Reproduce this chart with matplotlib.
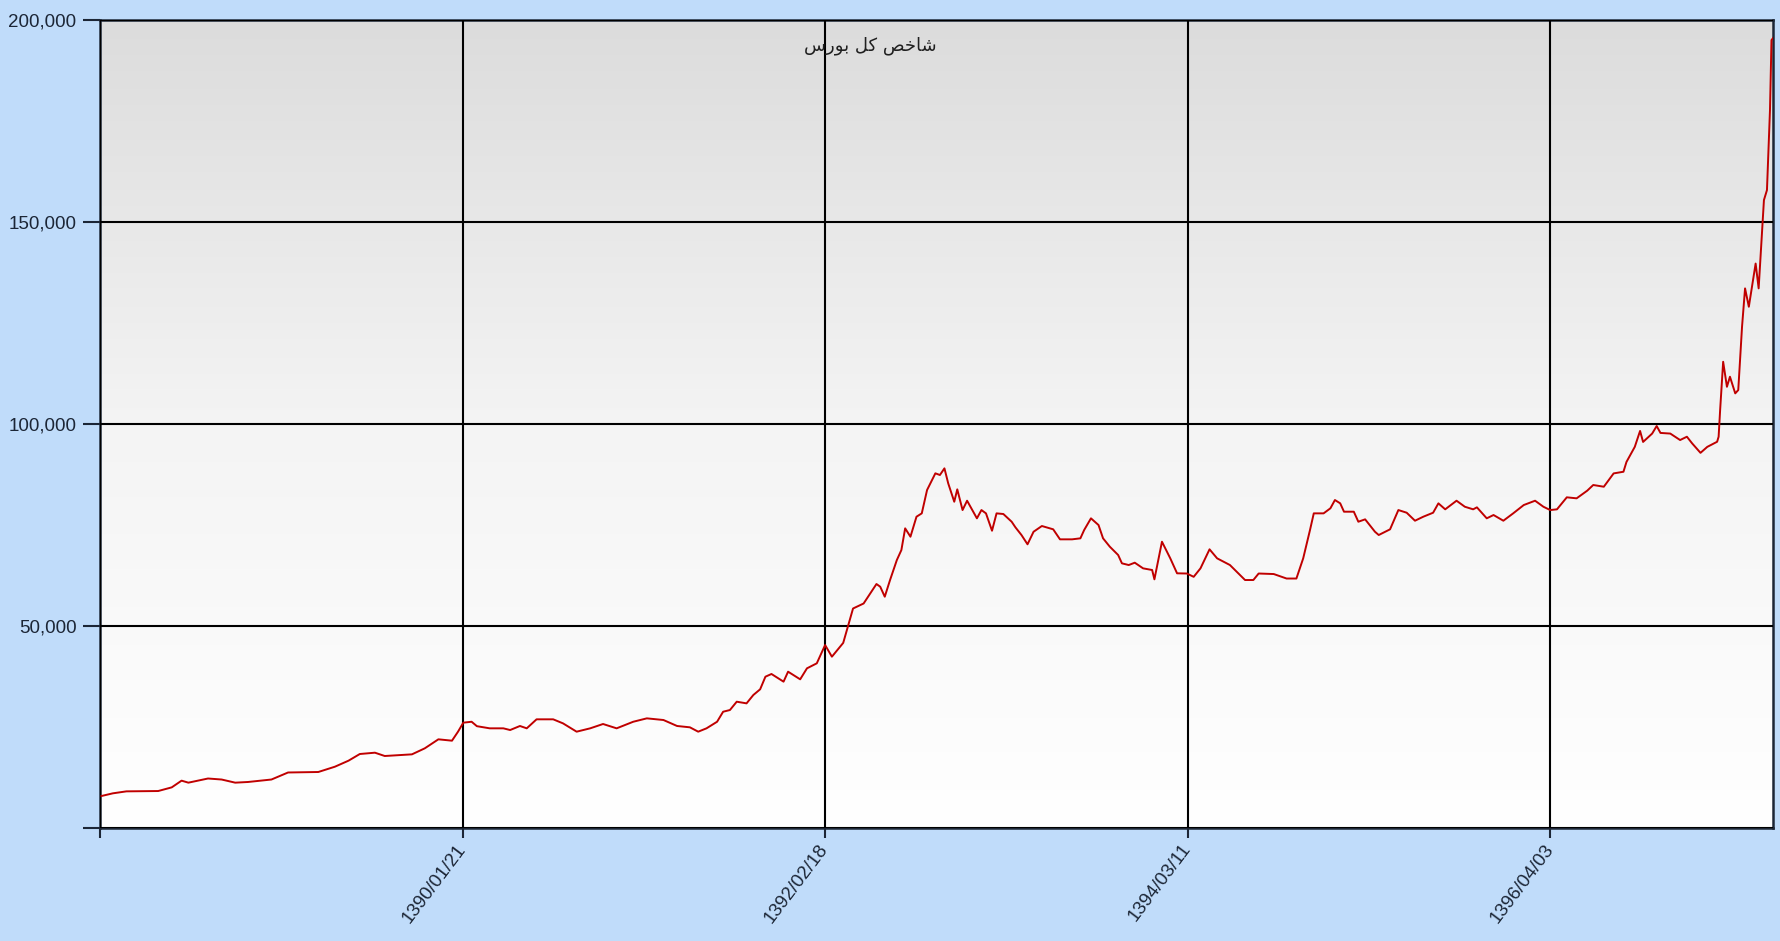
import numpy as np
import matplotlib
matplotlib.use("Agg")
from matplotlib import pyplot as plt
from matplotlib.colors import LinearSegmentedColormap

# trading-day index and index value
days = [2, 17, 35, 77, 95, 108, 117, 143, 161, 179,
        196, 227, 249, 289, 311, 329, 344, 364, 377, 413,
        430, 448, 466, 474, 481, 492, 499, 516, 534, 543,
        556, 565, 578, 600, 613, 631, 649, 666, 684, 706,
        724, 746, 764, 781, 792, 803, 817, 825, 834, 843,
        856, 865, 874, 881, 889, 905, 911, 927, 936, 949,
        960, 969, 984, 997, 1011, 1028, 1033, 1039, 1046, 1055,
        1061, 1066, 1073, 1081, 1088, 1095, 1106, 1112, 1118, 1123,
        1131, 1135, 1142, 1148, 1161, 1167, 1173, 1181, 1187, 1196,
        1207, 1212, 1220, 1228, 1236, 1247, 1262, 1271, 1287, 1298,
        1303, 1312, 1322, 1328, 1337, 1348, 1353, 1362, 1370, 1381,
        1393, 1396, 1406, 1417, 1426, 1439, 1448, 1457, 1469, 1479,
        1496, 1516, 1527, 1534, 1554, 1571, 1584, 1593, 1602, 1607,
        1620, 1629, 1635, 1642, 1647, 1660, 1666, 1675, 1688, 1693,
        1708, 1719, 1730, 1741, 1752, 1765, 1772, 1781, 1796, 1807,
        1818, 1823, 1836, 1845, 1858, 1871, 1885, 1900, 1911, 1920,
        1929, 1942, 1955, 1969, 1977, 1991, 2004, 2017, 2021, 2032,
        2039, 2043, 2055, 2061, 2066, 2079, 2092, 2101, 2108, 2119,
        2128, 2141, 2143, 2145, 2149, 2154, 2158, 2165, 2169, 2174,
        2178, 2183, 2192, 2196, 2203, 2207, 2211, 2213, 2215]
index_value = [7920, 8580, 9070, 9150, 10060, 11720, 11220, 12250, 12000, 11220,
               11390, 12000, 13740, 13860, 15170, 16660, 18315, 18640, 17820, 18230,
               19720, 21950, 21610, 23840, 26070, 26300, 25200, 24670, 24670, 24250,
               25250, 24670, 26900, 26900, 25900, 23840, 24670, 25740, 24670, 26300,
               27140, 26730, 25250, 24920, 23840, 24670, 26300, 28780, 29200, 31260,
               30850, 32920, 34330, 37450, 38120, 36220, 38690, 36800, 39520, 40760,
               45290, 42400, 45820, 54330, 55570, 60390, 59720, 57250, 61380, 66330,
               68800, 74170, 72100, 77050, 77880, 83660, 87790, 87370, 89020, 85310,
               80760, 83820, 78700, 81010, 76650, 78700, 77880, 73580, 77880, 77720,
               75810, 74420, 72520, 70220, 73330, 74750, 73930, 71450, 71450, 71700,
               73760, 76650, 74990, 71700, 69620, 67570, 65510, 65090, 65670, 64270,
               63860, 61550, 70860, 66750, 63040, 62990, 62170, 64270, 68980, 66750,
               65090, 61380, 61380, 62990, 62860, 61750, 61750, 66750, 73760, 77880,
               77880, 79130, 81180, 80360, 78290, 78290, 75810, 76400, 73330, 72520,
               73930, 78700, 78040, 76060, 77050, 78040, 80360, 78880, 81010, 79520,
               78880, 79370, 76650, 77470, 76060, 77880, 79940, 81010, 79520, 78700,
               78880, 81850, 81600, 83490, 84900, 84470, 87770, 88180, 90610, 94340,
               98280, 95560, 97630, 99500, 97790, 97630, 96030, 96850, 95190, 92860,
               94340, 95600, 96850, 103460, 115400, 109210, 111700, 107580, 108400, 124070,
               133570, 129020, 139720, 133570, 155430, 157900, 177700, 195030, 195500]

x_ticks = [0, 480, 960, 1440, 1920]
x_labels = ['', '1390/01/21', '1392/02/18', '1394/03/11', '1396/04/03']
y_ticks = [0, 50000, 100000, 150000, 200000]
y_labels = ['', '50,000', '100,000', '150,000', '200,000']

# "شاخص کل بورس" written with Arabic presentation forms in display order
title = '\ufeb1\ufead\ufeee\ufe91 \ufede\ufb90 \ufeba\ufea7\ufe8e\ufeb7'

bg = '#c0dcfa'
txt = '#1c2636'
font = ['Liberation Sans', 'DejaVu Sans']

fig = plt.figure(figsize=(17.81, 9.41), dpi=100, facecolor=bg)
ax = fig.add_axes([0.05615, 0.12009, 0.93936, 0.85866])

# grey-to-white background gradient of the plot area
grad = LinearSegmentedColormap.from_list('g', ['#ffffff', '#f4f4f4', '#dcdcdc'])
ax.imshow(np.linspace(0, 1, 256).reshape(-1, 1), aspect='auto', cmap=grad,
          origin='lower', extent=[0, 1, 0, 1], transform=ax.transAxes, zorder=0)

ax.plot(days, index_value, color='#c00000', lw=1.4, zorder=3)

ax.set_xlim(0, 2215)
ax.set_ylim(0, 200000)
ax.set_xticks(x_ticks)
ax.set_xticklabels(x_labels, rotation=53, ha='right', va='center',
                   rotation_mode='anchor', family=font, fontsize=13.5, color=txt)
ax.set_yticks(y_ticks)
ax.set_yticklabels(y_labels, family=font, fontsize=13.5, color=txt)
ax.tick_params(axis='y', length=12, width=1.5, color=txt, pad=5)
ax.tick_params(axis='x', length=7, width=1.5, color=txt, pad=6)
ax.grid(True, color='black', lw=1.5, zorder=2)
ax.set_axisbelow(False)
for s in ax.spines.values():
    s.set_color(txt)
    s.set_linewidth(1.8)

ax.text(0.5, 0.968, title, transform=ax.transAxes, ha='right', va='center',
        family=['DejaVu Sans'], fontsize=13, color='#202020', zorder=4)

fig.savefig('out.png', dpi=100, facecolor=bg)
